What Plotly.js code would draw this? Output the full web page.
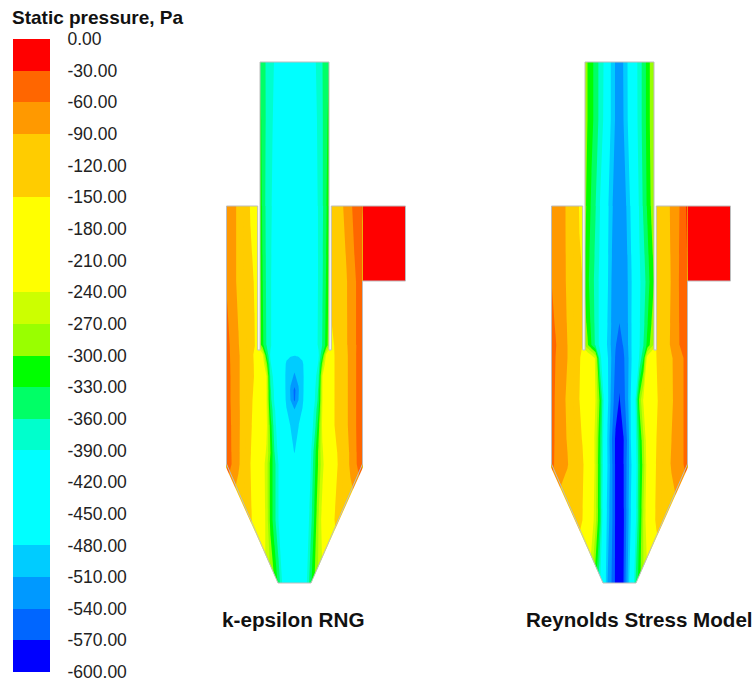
<!DOCTYPE html>
<html><head><meta charset="utf-8">
<script src="https://cdn.plot.ly/plotly-3.0.1.min.js"></script>
<style>html,body{margin:0;padding:0;background:#fff}#c{width:754px;height:682px}</style>
</head><body><div id="c"></div>
<script>
// pressure levels, from top of the legend to the bottom
const levels = [0,-30,-60,-90,-120,-150,-180,-210,-240,-270,-300,-330,-360,-390,-420,-450,-480,-510,-540,-570,-600];
const bandColors = ['#ff0000','#ff6600','#ff9900','#ffcc00','#ffcc00','#ffff00','#ffff00','#ffff00','#ccff00','#99ff00','#00ff00','#00ff66','#00ffcc','#00ffff','#00ffff','#00ffff','#00ccff','#0099ff','#0066ff','#0000ff'];
const tickLabels = ['0.00','-30.00','-60.00','-90.00','-120.00','-150.00','-180.00','-210.00','-240.00','-270.00','-300.00','-330.00','-360.00','-390.00','-420.00','-450.00','-480.00','-510.00','-540.00','-570.00','-600.00'];

// radial sample positions about the cyclone axis
const radial = [-68,-64,-60,-56,-52,-48,-44,-40,-37,
  -34.5,-32,-28,-24,-20,-16,-12,-8,-4,0,4,8,12,16,20,24,28,32,34.5,
  37,40,44,48,52,56,60,64,68];

const rngHeights = [62,120,206,281,345,355,364,376,390,400,410,425,452,464,520,583];
const rngPressure = [
 [-65,-74,-83,-100,-117,-133,-153,-165,-175, -335,-345,-365,-378,-392,-410,-430,-432,-435,-440,-435,-432,-430,-410,-395,-380,-360,-342,-330, -115,-108,-100,-92,-80,-67,-50,-40,-28],
 [-65,-74,-83,-100,-117,-133,-153,-165,-175, -320,-340,-365,-382,-396,-415,-432,-435,-440,-442,-440,-435,-432,-415,-398,-385,-362,-338,-318, -115,-108,-100,-92,-80,-67,-50,-40,-28],
 [-65,-74,-83,-100,-117,-133,-153,-165,-175, -305,-335,-368,-385,-400,-420,-438,-442,-445,-445,-445,-442,-438,-420,-402,-388,-365,-332,-302, -115,-108,-100,-92,-80,-67,-50,-40,-28],
 [-62,-72,-85,-97,-115,-130,-142,-152,-165, -295,-328,-365,-387,-405,-425,-442,-448,-452,-452,-452,-448,-442,-425,-405,-388,-362,-325,-292, -125,-118,-110,-100,-92,-78,-65,-52,-38],
 [-48,-63,-76,-88,-105,-120,-135,-148,-165, -285,-320,-360,-385,-410,-430,-445,-455,-460,-460,-460,-455,-445,-430,-410,-385,-358,-318,-282, -165,-148,-130,-112,-93,-80,-67,-52,-38],
 [-45,-62,-73,-86,-100,-118,-137,-155,-172, -188,-225,-330,-395,-425,-440,-452,-470,-476,-478,-476,-470,-452,-440,-425,-395,-330,-225,-186, -168,-150,-130,-112,-95,-80,-67,-50,-35],
 [-44,-61,-73,-86,-100,-118,-137,-153,-171, -188,-210,-285,-385,-420,-435,-455,-486,-498,-505,-498,-486,-455,-435,-420,-385,-285,-210,-186, -168,-150,-130,-113,-95,-80,-67,-50,-34],
 [-42,-60,-72,-86,-100,-118,-136,-152,-170, -188,-205,-240,-370,-405,-425,-455,-490,-505,-512,-505,-490,-455,-425,-405,-370,-240,-205,-186, -168,-150,-130,-113,-95,-80,-67,-50,-33],
 [-41,-60,-72,-86,-100,-119,-140,-155,-171, -188,-204,-238,-355,-398,-420,-452,-490,-512,-548,-512,-490,-452,-420,-398,-355,-238,-204,-186, -167,-150,-130,-113,-95,-80,-67,-50,-33],
 [-40,-60,-72,-86,-100,-120,-142,-158,-172, -188,-203,-238,-350,-395,-418,-450,-488,-510,-545,-510,-488,-450,-418,-395,-350,-238,-203,-186, -166,-150,-130,-113,-95,-80,-67,-50,-33],
 [-40,-59,-71,-85,-100,-121,-143,-159,-173, -189,-204,-235,-335,-385,-415,-445,-478,-495,-508,-495,-478,-445,-415,-385,-335,-235,-204,-187, -166,-150,-130,-113,-95,-80,-67,-50,-33],
 [-40,-58,-71,-85,-100,-122,-145,-160,-175, -190,-205,-230,-315,-378,-410,-440,-455,-482,-495,-482,-455,-440,-410,-378,-315,-230,-205,-188, -166,-150,-130,-113,-95,-80,-67,-50,-33],
 [-38,-57,-70,-85,-102,-124,-148,-165,-182, -198,-215,-245,-300,-360,-400,-425,-445,-460,-482,-460,-445,-425,-400,-345,-295,-245,-210,-195, -178,-165,-143,-124,-100,-85,-69,-52,-35],
 [-38,-56,-70,-85,-103,-125,-150,-175,-190, -205,-222,-255,-310,-350,-390,-420,-440,-455,-460,-455,-440,-425,-395,-340,-295,-250,-215,-200, -185,-170,-145,-125,-100,-85,-70,-52,-35],
 [-100,-105,-110,-115,-120,-130,-145,-160,-178, -195,-218,-250,-310,-350,-390,-420,-440,-450,-450,-445,-435,-415,-375,-325,-270,-225,-200,-185, -165,-150,-130,-115,-105,-105,-105,-105,-105],
 [-110,-120,-130,-140,-150,-170,-190,-205,-215, -222,-228,-245,-270,-300,-340,-395,-430,-445,-445,-440,-425,-395,-340,-300,-265,-240,-225,-215, -205,-190,-170,-150,-140,-130,-120,-110,-100]
];

const rsmHeights = [62,120,206,281,323,345,358,400,440,464,520,583];
const rsmPressure = [
 [-65,-70,-77,-85,-95,-112,-130,-153,-165, -275,-300,-322,-340,-368,-390,-445,-488,-513,-530,-508,-480,-440,-400,-378,-345,-320,-285,-272, -125,-115,-105,-97,-85,-72,-60,-42,-25],
 [-65,-70,-77,-85,-95,-112,-130,-153,-165, -275,-300,-322,-340,-368,-392,-445,-488,-513,-530,-510,-482,-442,-402,-378,-345,-320,-285,-272, -125,-115,-105,-97,-85,-72,-60,-42,-25],
 [-65,-70,-77,-85,-95,-112,-130,-153,-165, -290,-310,-335,-358,-385,-420,-470,-505,-520,-530,-522,-505,-470,-420,-385,-355,-325,-295,-280, -125,-115,-105,-97,-85,-72,-60,-42,-25],
 [-60,-66,-75,-83,-95,-110,-130,-145,-150, -305,-322,-345,-370,-395,-430,-475,-510,-525,-532,-528,-512,-482,-435,-395,-375,-345,-315,-300, -120,-113,-106,-98,-88,-72,-58,-42,-30],
 [-54,-62,-71,-80,-92,-107,-127,-142,-150, -290,-308,-338,-368,-395,-435,-480,-512,-530,-540,-532,-514,-480,-432,-393,-368,-332,-300,-282, -128,-119,-109,-98,-86,-72,-59,-46,-33],
 [-48,-58,-68,-78,-90,-105,-125,-140,-150, -275,-295,-330,-365,-395,-440,-485,-515,-538,-552,-538,-515,-480,-430,-392,-360,-320,-285,-265, -135,-125,-112,-98,-85,-72,-60,-50,-35],
 [-45,-60,-70,-80,-90,-105,-125,-145,-165, -180,-195,-215,-245,-370,-420,-475,-512,-543,-560,-545,-520,-482,-425,-385,-330,-220,-190,-170, -150,-140,-120,-105,-93,-82,-72,-60,-33],
 [-40,-65,-75,-85,-95,-112,-130,-150,-165, -180,-195,-215,-240,-300,-385,-470,-520,-555,-572,-552,-520,-470,-390,-290,-235,-205,-185,-170, -155,-143,-125,-108,-95,-82,-72,-60,-35],
 [-45,-65,-74,-83,-92,-105,-122,-140,-152, -168,-183,-212,-250,-320,-395,-485,-535,-575,-585,-572,-535,-470,-400,-330,-275,-215,-188,-172, -150,-138,-120,-102,-90,-80,-70,-60,-38],
 [-50,-65,-73,-81,-88,-100,-115,-132,-143, -160,-175,-205,-250,-325,-400,-480,-530,-575,-590,-572,-530,-480,-410,-335,-285,-220,-185,-170, -145,-135,-115,-97,-88,-78,-68,-60,-40],
 [-100,-105,-110,-115,-115,-118,-120,-135,-150, -165,-180,-215,-260,-325,-415,-495,-530,-575,-590,-575,-525,-470,-400,-330,-265,-215,-180,-160, -140,-125,-110,-105,-100,-100,-100,-100,-100],
 [-110,-120,-130,-140,-150,-170,-190,-205,-215, -225,-240,-270,-320,-380,-440,-510,-540,-575,-590,-570,-510,-440,-360,-310,-270,-240,-220,-210, -200,-190,-170,-150,-140,-130,-120,-110,-100]
];

// inlet duct: uniform band just below zero
const inletR = [68,111];
const inletH = [206,281];
const inletPressure = [[-15]];

// cyclone wall outline (radial, height)
const wallR = [-34.5,34.5,34.5,36.8,36.8,111,111,68,68,16.5,-16.5,-68,-68,-36.8,-36.8,-34.5,-34.5];
const wallH = [62,62,350,350,206,206,281,281,464,583,583,464,206,206,350,350,62];
// regions of the sampling grid that lie outside the gas volume
const voidR = [-70,-34.5,-34.5,-70,-70,null, 34.5,70,70,34.5,34.5,null,
  -70,-16.5,-70,-70,null, 70,16.5,70,70,null,
  -36.8,-34.5,-34.5,-36.8,-36.8,null, 34.5,36.8,36.8,34.5,34.5];
const voidH = [60,60,206,206,60,null, 60,60,206,206,60,null,
  464,583,585,464,null, 464,583,585,464,null,
  206,206,350,350,206,null, 206,206,350,350,206];

const colorscale = [];
const bottomUp = bandColors.slice().reverse();
bottomUp.forEach((c,i)=>{colorscale.push([i/bottomUp.length,c]);colorscale.push([(i+1)/bottomUp.length,c]);});

const W=754,H=682;
function model(heights,pressure,xa,ya){
  return [
   {type:'contour',x:radial,y:heights,z:pressure,xaxis:xa,yaxis:ya,colorscale:colorscale,zmin:-600,zmax:0,
    autocontour:false,contours:{start:-600,end:0,size:30,coloring:'fill',showlines:false},line:{width:0,smoothing:0},showscale:false,hoverinfo:'skip'},
   {type:'heatmap',x:inletR,y:inletH,z:inletPressure,xaxis:xa,yaxis:ya,colorscale:colorscale,zmin:-600,zmax:0,showscale:false,hoverinfo:'skip'},
   {type:'scatter',mode:'lines',x:voidR,y:voidH,xaxis:xa,yaxis:ya,fill:'toself',fillcolor:'#ffffff',line:{width:0,color:'#ffffff'},showlegend:false,hoverinfo:'skip'},
   {type:'scatter',mode:'lines',x:wallR,y:wallH,xaxis:xa,yaxis:ya,line:{width:1,color:'#bdbdbd'},showlegend:false,hoverinfo:'skip'}
  ];
}
const legendMid = levels.slice(0,-1).map((v,i)=>(v+levels[i+1])/2);
const legendTrace = {type:'heatmap',x:[0,1],y:levels,z:legendMid.map(v=>[v]),xaxis:'x3',yaxis:'y3',
  colorscale:colorscale,zmin:-600,zmax:0,showscale:false,hoverinfo:'skip'};

const hidden={visible:false,fixedrange:true};
const bodyY={...hidden,range:[682,0],domain:[0,1]};
const font='"Liberation Sans",Arial,sans-serif';
const layout={
  width:W,height:H,margin:{l:0,r:0,t:0,b:0},paper_bgcolor:'#fff',plot_bgcolor:'rgba(0,0,0,0)',showlegend:false,
  xaxis:{...hidden,domain:[210/W,420/W],range:[-84.5,125.5]},
  yaxis:{...bodyY,anchor:'x'},
  xaxis2:{...hidden,domain:[535/W,745/W],range:[-84.5,125.5]},
  yaxis2:{...bodyY,anchor:'x2'},
  xaxis3:{...hidden,domain:[13/W,50/W],range:[0,1]},
  yaxis3:{anchor:'x3',side:'right',domain:[(H-672)/H,(H-39)/H],range:[-600,0],fixedrange:true,showgrid:false,zeroline:false,showline:false,
    tickmode:'array',tickvals:levels,ticktext:tickLabels,ticks:'outside',ticklen:13,tickcolor:'rgba(0,0,0,0)',ticklabeloverflow:'allow',
    tickfont:{family:font,size:17.5,color:'#222'}},
  annotations:[
   {xref:'paper',yref:'paper',x:10/W,y:1-18/H,xanchor:'left',yanchor:'middle',showarrow:false,text:'<b>Static pressure, Pa</b>',font:{family:font,size:19,color:'#111'}},
   {xref:'paper',yref:'paper',x:293.5/W,y:1-619/H,xanchor:'center',yanchor:'middle',showarrow:false,text:'<b>k-epsilon RNG</b>',font:{family:font,size:20.7,color:'#111'}},
   {xref:'paper',yref:'paper',x:639.5/W,y:1-619/H,xanchor:'center',yanchor:'middle',showarrow:false,text:'<b>Reynolds Stress Model</b>',font:{family:font,size:20.6,color:'#111'}}
  ]
};
Plotly.newPlot('c',[...model(rngHeights,rngPressure,'x','y'),...model(rsmHeights,rsmPressure,'x2','y2'),legendTrace],layout,{displayModeBar:false,staticPlot:true});
</script></body></html>
